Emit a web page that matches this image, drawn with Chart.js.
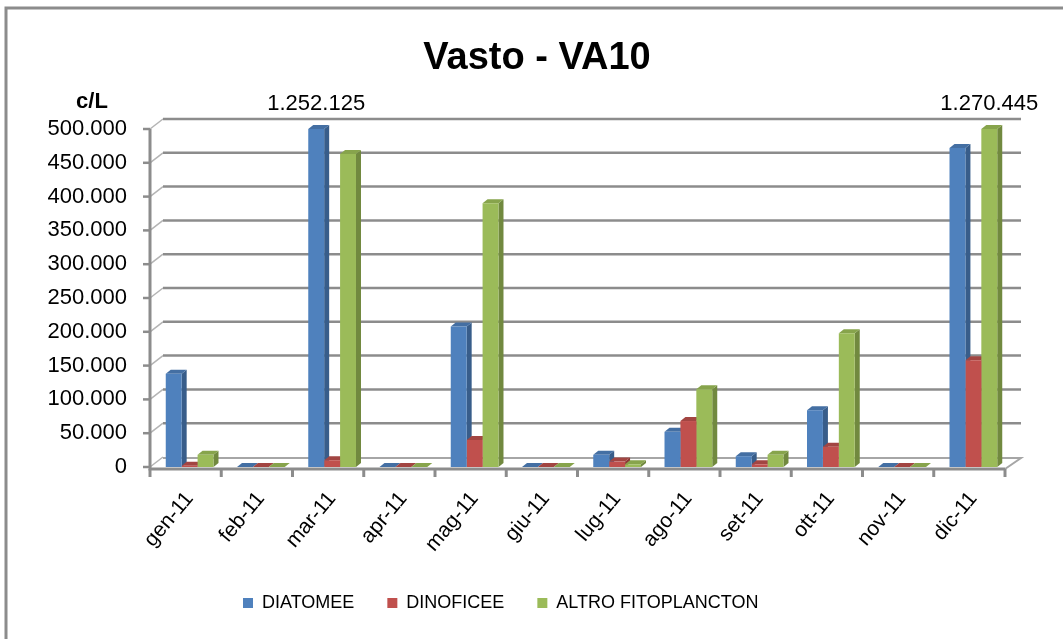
<!DOCTYPE html>
<html>
<head>
<meta charset="utf-8">
<title>Vasto - VA10</title>
<script src="https://cdn.jsdelivr.net/npm/chart.js@4.4.1/dist/chart.umd.min.js"></script>
<style>
  html, body { margin: 0; padding: 0; background: #fff; }
  #wrap { position: relative; width: 1063px; height: 639px; }
</style>
</head>
<body>
<div id="wrap"><canvas id="vastoChart" width="1063" height="639"></canvas></div>
<script>
// Monthly phytoplankton counts (cells per litre), station VA10
const months = ['gen-11', 'feb-11', 'mar-11', 'apr-11', 'mag-11', 'giu-11',
                'lug-11', 'ago-11', 'set-11', 'ott-11', 'nov-11', 'dic-11'];
const diatomee = [138000, 0, 1252125, 0, 208000, 0, 18000, 52000, 16000, 84000, 0, 472000];
const dinoficee = [2000, 0, 10000, 0, 40000, 0, 8000, 68000, 4000, 30000, 0, 158000];
const altroFitoplancton = [18000, 0, 463000, 0, 390000, 0, 4000, 115000, 18000, 198000, 0, 1270445];
const yTickValues = [0, 50000, 100000, 150000, 200000, 250000, 300000, 350000, 400000, 450000, 500000];

const FONT = "'Liberation Sans', Arial, sans-serif";
const GRID = '#8c8c8c';

// 3D look: depth of each bar and offset of the back wall
const BAR_DX = 5, BAR_DY = 4;
const WALL_DX = 13, WALL_DY = 10;

const faceColors = [
  { side: '#385d8a', top: '#446fa3' },
  { side: '#8c3836', top: '#a24542' },
  { side: '#71893f', top: '#87a44c' }
];

// dotted thousands, e.g. 1.252.125
function fmt(v) {
  return String(Math.round(v)).replace(/\B(?=(\d{3})+(?!\d))/g, '.');
}

// frame, walls, floor and gridlines behind the bars
const chartBackdrop = {
  id: 'chartBackdrop',
  beforeDraw(chart) {
    const ctx = chart.ctx;
    const { left, right, top, bottom } = chart.chartArea;
    const y = chart.scales.y;
    const ax = left - 4, ex = right - 4;
    const floorY = bottom + 2;
    ctx.save();
    ctx.fillStyle = '#fff';
    ctx.fillRect(0, 0, chart.width, chart.height);

    ctx.strokeStyle = GRID;
    ctx.lineWidth = 3;
    ctx.beginPath();
    ctx.moveTo(6, chart.height);
    ctx.lineTo(6, 8);
    ctx.lineTo(chart.width, 8);
    ctx.stroke();

    yTickValues.forEach(v => {
      const py = y.getPixelForValue(v);
      ctx.strokeStyle = '#b4b4b4';
      ctx.lineWidth = 1.5;
      ctx.beginPath();
      ctx.moveTo(ax, py);
      ctx.lineTo(ax + WALL_DX, py - WALL_DY);
      ctx.stroke();
      if (v > 0) {
        ctx.strokeStyle = GRID;
        ctx.lineWidth = 2.5;
        ctx.beginPath();
        ctx.moveTo(ax + WALL_DX, py - WALL_DY);
        ctx.lineTo(ex + WALL_DX + 3, py - WALL_DY);
        ctx.stroke();
      }
      ctx.strokeStyle = GRID;
      ctx.lineWidth = 2.5;
      ctx.beginPath();
      ctx.moveTo(ax - 7, py);
      ctx.lineTo(ax, py);
      ctx.stroke();
    });

    // floor
    ctx.strokeStyle = '#a6a6a6';
    ctx.lineWidth = 2;
    ctx.beginPath();
    ctx.moveTo(ax + WALL_DX, floorY - WALL_DY - 1);
    ctx.lineTo(ex + WALL_DX + 3, floorY - WALL_DY - 1);
    ctx.lineTo(ex, floorY);
    ctx.stroke();

    // front axes
    ctx.strokeStyle = GRID;
    ctx.lineWidth = 3;
    ctx.beginPath();
    ctx.moveTo(ax, top);
    ctx.lineTo(ax, floorY);
    ctx.lineTo(ex, floorY);
    ctx.stroke();
    const catW = (right - left) / months.length;
    for (let i = 0; i <= months.length; i++) {
      const tx = ax + i * catW;
      ctx.beginPath();
      ctx.moveTo(tx, floorY);
      ctx.lineTo(tx, floorY + 8);
      ctx.stroke();
    }
    ctx.restore();
  }
};

// side and top faces; drawn first so the next bar's front covers them
const barDepth = {
  id: 'barDepth',
  beforeDatasetsDraw(chart) {
    const ctx = chart.ctx;
    const areaTop = chart.chartArea.top;
    ctx.save();
    chart.data.datasets.forEach((ds, di) => {
      const meta = chart.getDatasetMeta(di);
      meta.data.forEach(bar => {
        const { x, y, width, base } = bar.getProps(['x', 'y', 'width', 'base'], true);
        const l = x - width / 2, r = x + width / 2;
        const t = Math.max(y, areaTop);
        ctx.fillStyle = faceColors[di].side;
        ctx.beginPath();
        ctx.moveTo(r, t);
        ctx.lineTo(r + BAR_DX, t - BAR_DY);
        ctx.lineTo(r + BAR_DX, base - BAR_DY);
        ctx.lineTo(r, base);
        ctx.closePath();
        ctx.fill();
        ctx.fillStyle = faceColors[di].top;
        ctx.beginPath();
        ctx.moveTo(l, t);
        ctx.lineTo(l + BAR_DX, t - BAR_DY);
        ctx.lineTo(r + BAR_DX, t - BAR_DY);
        ctx.lineTo(r, t);
        ctx.closePath();
        ctx.fill();
      });
    });
    ctx.restore();
  }
};

// title, unit label and values of bars running past the top of the axis
const chartTexts = {
  id: 'chartTexts',
  afterDraw(chart) {
    const ctx = chart.ctx;
    const yMax = chart.scales.y.max;
    const top = chart.chartArea.top;
    ctx.save();
    ctx.fillStyle = '#000';
    ctx.textAlign = 'center';
    ctx.textBaseline = 'middle';
    ctx.font = 'bold 38px ' + FONT;
    ctx.fillText('Vasto - VA10', 537, 59);
    ctx.font = 'bold 22px ' + FONT;
    ctx.fillText('c/L', 92, 102);
    ctx.font = '22px ' + FONT;
    chart.data.datasets.forEach((ds, di) => {
      const meta = chart.getDatasetMeta(di);
      ds.data.forEach((v, i) => {
        if (v > yMax) ctx.fillText(fmt(v), meta.data[i].x, top - 25);
      });
    });
    ctx.restore();
  }
};

// place the legend row under the category labels
const legendPlacement = {
  id: 'legendPlacement',
  afterLayout(chart) {
    const lg = chart.legend;
    if (!lg || !lg.lineWidths) return;
    const pad = lg.options.labels.padding;
    const startX = (lg.left + pad + lg.right - lg.lineWidths[0]) / 2;
    const dx = 243 - startX;
    lg.left += dx;
    lg.right += dx;
    const dy = 603 - (lg.top + pad + 9);
    lg.top += dy;
    lg.bottom += dy;
  }
};

const ctx = document.getElementById('vastoChart').getContext('2d');
const vastoChart = new Chart(ctx, {
  type: 'bar',
  data: {
    labels: months,
    datasets: [
      { label: 'DIATOMEE', data: diatomee, backgroundColor: '#4f81bd' },
      { label: 'DINOFICEE', data: dinoficee, backgroundColor: '#c0504d' },
      { label: 'ALTRO FITOPLANCTON', data: altroFitoplancton, backgroundColor: '#9bbb59' }
    ]
  },
  options: {
    responsive: false,
    animation: false,
    devicePixelRatio: 1,
    categoryPercentage: 0.67,
    barPercentage: 1.0,
    datasets: { bar: { clip: 0, borderWidth: 0 } },
    layout: { padding: { top: 129, right: 54, bottom: 17, left: 0 } },
    plugins: {
      title: { display: false },
      tooltip: { enabled: false },
      legend: {
        position: 'bottom',
        labels: {
          boxWidth: 10,
          boxHeight: 10,
          padding: 33,
          color: '#000',
          font: { family: FONT, size: 18 }
        }
      }
    },
    scales: {
      x: {
        grid: { display: false, drawTicks: false },
        border: { display: false },
        ticks: {
          minRotation: 50,
          maxRotation: 50,
          padding: 20,
          color: '#000',
          font: { family: FONT, size: 21 }
        },
        afterFit(scale) { scale.height = 94; }
      },
      y: {
        min: 0,
        max: 500000,
        grid: { display: false, drawTicks: false },
        border: { display: false },
        afterBuildTicks(scale) { scale.ticks = yTickValues.map(v => ({ value: v })); },
        ticks: {
          padding: 27,
          color: '#000',
          font: { family: FONT, size: 22 },
          callback: v => fmt(v)
        },
        afterFit(scale) { scale.width = 154; }
      }
    }
  },
  plugins: [chartBackdrop, barDepth, chartTexts, legendPlacement]
});
</script>
</body>
</html>
